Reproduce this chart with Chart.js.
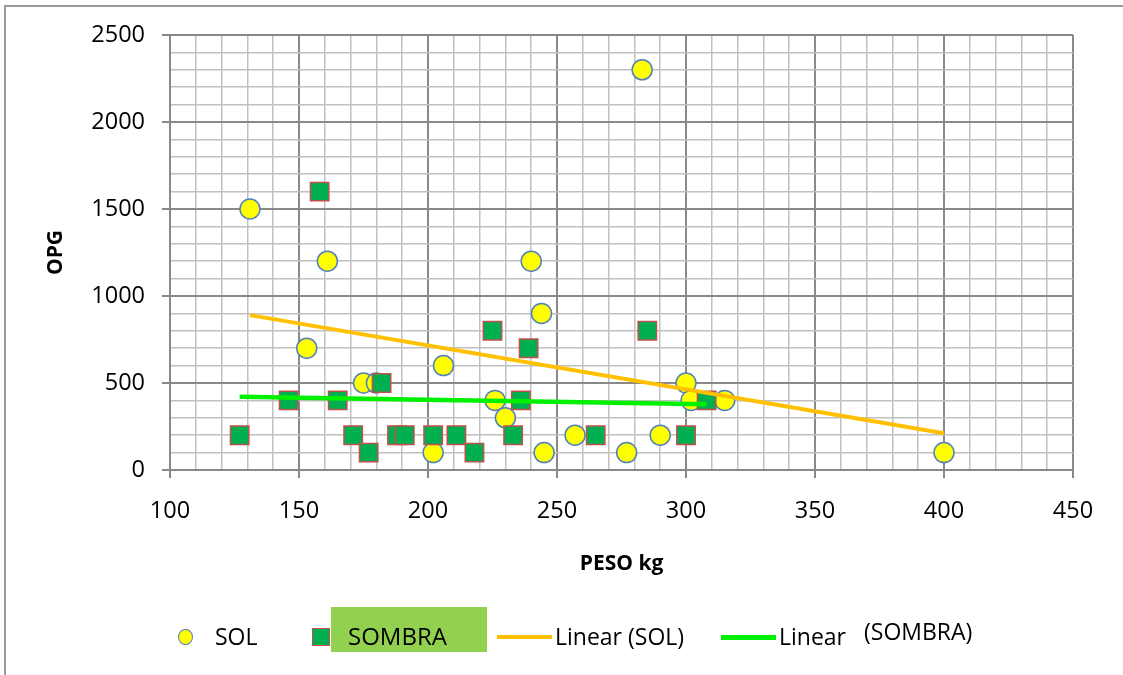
<!DOCTYPE html>
<html>
<head>
<meta charset="utf-8">
<title>OPG vs PESO kg</title>
<script src="https://cdn.jsdelivr.net/npm/chart.js@4.4.1/dist/chart.umd.min.js"></script>
<style>
  html, body { margin: 0; padding: 0; background: #fff; overflow: hidden; }
  #wrap { position: relative; width: 1123px; height: 675px; font-family: 'Open Sans', sans-serif; }
  #frame { position: absolute; left: 4px; top: 5px; width: 1300px; height: 900px; border: 2px solid #9a9a9a; }
  #grafico { position: absolute; left: 0; top: 0; }
  .lg { position: absolute; font-size: 23px; line-height: 1; color: #000; white-space: nowrap; }
  .mk { position: absolute; box-sizing: border-box; }
</style>
</head>
<body>
<div id="wrap">
  <div id="frame"></div>
  <canvas id="grafico" width="1123" height="675"></canvas>
  <div id="legenda"></div>
</div>
<script>
'use strict';

// Dati
const seriesNames = ['SOL', 'SOMBRA', 'Linear (SOL)', 'Linear (SOMBRA)'];

const solX = [131, 161, 153, 175, 180, 283, 240, 244, 206, 226, 230, 202, 245, 257, 277, 290, 300, 302, 315, 400];
const solY = [1500, 1200, 700, 500, 500, 2300, 1200, 900, 600, 400, 300, 100, 100, 200, 100, 200, 500, 400, 400, 100];

const sombraX = [127, 146, 158, 165, 171, 177, 182, 188, 191, 202, 211, 218, 225, 233, 236, 239, 265, 285, 300, 308];
const sombraY = [200, 400, 1600, 400, 200, 100, 500, 200, 200, 200, 200, 100, 800, 200, 400, 700, 200, 800, 200, 400];

// Linee di tendenza (estremi)
const trendSolX = [131, 400];
const trendSolY = [890, 211];
const trendSombraX = [127, 308];
const trendSombraY = [421, 378];

// Etichette degli assi
const xTickLabels = [100, 150, 200, 250, 300, 350, 400, 450];
const yTickLabels = [0, 500, 1000, 1500, 2000, 2500];

const FONT = "'Open Sans', sans-serif";
const MAJOR = '#898989';
const MINOR = '#c0c0c0';

function toPoints(xs, ys) {
  return xs.map((x, i) => ({ x: x, y: ys[i] }));
}

function isMajorX(c) { return c.tick && xTickLabels.includes(c.tick.value); }
function isMajorY(c) { return c.tick && yTickLabels.includes(c.tick.value); }

const ctx = document.getElementById('grafico').getContext('2d');

new Chart(ctx, {
  type: 'scatter',
  data: {
    datasets: [
      {
        label: seriesNames[0],
        data: toPoints(solX, solY),
        pointStyle: 'circle',
        pointRadius: 10,
        pointBackgroundColor: '#ffff00',
        pointBorderColor: '#4f81bd',
        pointBorderWidth: 1.5,
        order: 3
      },
      {
        label: seriesNames[1],
        data: toPoints(sombraX, sombraY),
        pointStyle: 'rect',
        pointRadius: 13,
        pointBackgroundColor: '#00b050',
        pointBorderColor: '#c0504d',
        pointBorderWidth: 1.5,
        order: 2
      },
      {
        label: seriesNames[2],
        data: toPoints(trendSolX, trendSolY),
        showLine: true,
        borderColor: '#ffc000',
        borderWidth: 4,
        pointRadius: 0,
        order: 1
      },
      {
        label: seriesNames[3],
        data: toPoints(trendSombraX, trendSombraY),
        showLine: true,
        borderColor: '#00f000',
        borderWidth: 4.5,
        pointRadius: 0,
        order: 0
      }
    ]
  },
  options: {
    responsive: false,
    animation: false,
    layout: { padding: { top: 35, right: 50, bottom: 0, left: 0 } },
    plugins: { legend: { display: false }, tooltip: { enabled: false } },
    scales: {
      x: {
        type: 'linear',
        min: 100,
        max: 450,
        ticks: {
          stepSize: 10,
          autoSkip: false,
          maxRotation: 0,
          padding: 19,
          color: '#000',
          font: { family: FONT, size: 23.5 },
          callback: v => xTickLabels.includes(v) ? String(v) : ''
        },
        grid: {
          color: c => isMajorX(c) ? MAJOR : MINOR,
          lineWidth: c => isMajorX(c) ? 2 : 1.5,
          tickColor: c => isMajorX(c) ? MAJOR : 'rgba(0,0,0,0)',
          tickLength: 8
        },
        border: { color: MAJOR, width: 2 },
        title: {
          display: true,
          text: 'PESO kg',
          color: '#000',
          font: { family: FONT, size: 21, weight: 'bold' },
          padding: { top: 0, bottom: 98 }
        },
        afterFit: s => { s.height = 205; }
      },
      y: {
        type: 'linear',
        min: 0,
        max: 2500,
        ticks: {
          stepSize: 100,
          autoSkip: false,
          padding: 17,
          color: '#000',
          font: { family: FONT, size: 23.5 },
          callback: v => yTickLabels.includes(v) ? String(v) : ''
        },
        grid: {
          color: c => isMajorY(c) ? MAJOR : MINOR,
          lineWidth: c => isMajorY(c) ? 2 : 1.5,
          tickColor: c => isMajorY(c) ? MAJOR : 'rgba(0,0,0,0)',
          tickLength: 8
        },
        border: { color: MAJOR, width: 2 },
        title: {
          display: true,
          text: 'OPG',
          color: '#000',
          font: { family: FONT, size: 21, weight: 'bold' },
          padding: { top: 43, bottom: 0 }
        },
        afterFit: s => { s.width = 170; }
      }
    }
  }
});

// Legenda (HTML, posizionata come nell'originale)
const leg = document.getElementById('legenda');
leg.innerHTML = `
  <div class="mk" style="left:178px;top:629px;width:15px;height:16px;border-radius:50%;background:#ffff00;border:1.5px solid #4f81bd;"></div>
  <div class="lg" style="left:215px;top:625px;">${seriesNames[0]}</div>
  <div class="mk" style="left:312px;top:628px;width:18px;height:18px;background:#00b050;border:1.5px solid #c0504d;"></div>
  <div class="mk" style="left:331px;top:607px;width:156px;height:45px;background:#92d050;"></div>
  <div class="lg" style="left:348px;top:624px;font-size:24px;">${seriesNames[1]}</div>
  <div class="mk" style="left:497px;top:635px;width:55px;height:4px;background:#ffc000;"></div>
  <div class="lg" style="left:555px;top:625px;">${seriesNames[2]}</div>
  <div class="mk" style="left:721px;top:635px;width:55px;height:4.5px;background:#00f000;"></div>
  <div class="lg" style="left:779px;top:625px;">${seriesNames[3].split(' ')[0]}</div>
  <div class="lg" style="left:864px;top:620px;">${seriesNames[3].split(' ')[1]}</div>
`;
</script>
</body>
</html>
